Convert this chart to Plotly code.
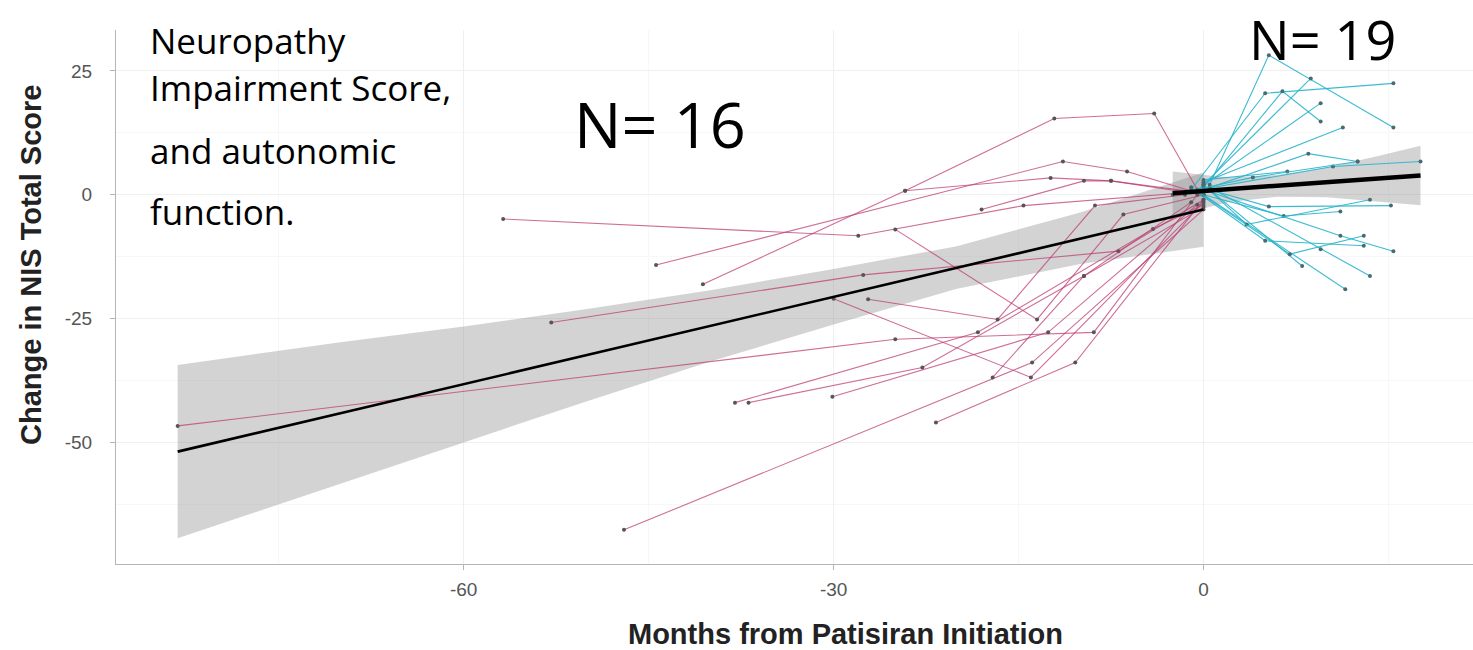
import plotly.graph_objects as go

# ---------------- data ----------------
pre_t = [
    [-83.2, -25.0, -8.9, -0.5],
    [-52.9, -27.6, -6.9, 0.0],
    [-56.8, -28.0, -14.6, -1.0],
    [-44.4, -11.4, -6.2, 0.0],
    [-40.6, -24.2, -12.1, -4.0, -0.5],
    [-38.0, -18.3, -4.1, 0.0],
    [-36.9, -22.8, -9.7, -1.0],
    [-47.0, -13.9, 0.0],
    [-30.1, -12.6, -0.5],
    [-24.2, -12.4, -7.5, 0.0],
    [-21.7, -10.4, 0.0],
    [-27.2, -16.7, -8.8, -1.5],
    [-17.1, -9.7, 0.0],
    [-30.0, -14.0, 0.0],
    [-25.0, -13.5, -6.5, 0.0],
    [-18.0, -9.7, -7.5, -0.5],
]
pre_y = [
    [-46.7, -29.2, -27.8, 0.0],
    [-25.8, -16.2, -11.4, -1.0],
    [-4.9, -8.3, -2.2, 0.5],
    [-14.2, 6.7, 4.7, 0.0],
    [-18.1, 0.8, 15.4, 16.4, 1.0],
    [-42.0, -27.8, -6.9, -2.0],
    [-42.0, -34.9, -16.4, -1.5],
    [-67.7, -33.9, -3.0],
    [-40.8, -27.8, -2.0],
    [0.8, 3.4, 2.8, 0.0],
    [-46.0, -33.9, -1.0],
    [-21.1, -25.2, -2.2, 0.0],
    [-36.9, -16.4, -2.5],
    [-21.0, -36.9, -1.5],
    [-7.0, -25.2, -4.0, 0.0],
    [-3.0, 2.8, 2.8, 0.5],
]

post_t = [
    [0.5, 5.3, 15.4],
    [-1.0, 5.0, 15.4],
    [0.0, 6.4, 9.5],
    [0.0, 8.7],
    [-0.5, 9.5],
    [0.0, 11.3],
    [0.0, 8.5, 12.5],
    [-1.5, 10.5, 17.6],
    [0.0, 6.8],
    [0.5, 5.3, 15.2],
    [0.0, 6.5, 11.1],
    [0.0, 11.1, 15.4],
    [-0.5, 5.0, 13.0],
    [0.0, 8.0],
    [0.5, 9.5, 13.5],
    [0.0, 11.5],
    [-2.5, 4.0, 12.5],
    [0.0, 3.5, 13.5],
    [-1.0, 7.0, 13.0],
]
post_y = [
    [2.0, 28.2, 13.6],
    [1.0, 20.5, 22.5],
    [1.5, 20.9, 14.8],
    [2.0, 23.5],
    [1.0, 18.5],
    [2.5, 13.6],
    [1.0, 8.3, 6.7],
    [0.5, 5.7, 6.7],
    [3.0, 4.7],
    [1.0, -2.4, -2.2],
    [0.0, -4.3, -3.4],
    [1.0, -8.3, -11.4],
    [0.5, -9.3, -10.3],
    [2.0, -14.4],
    [1.5, -11.0, -16.4],
    [0.0, -19.1],
    [0.0, 3.5, 6.7],
    [2.0, -6.0, -1.0],
    [1.5, -12.0, -8.3],
]

# linear fits and confidence bands
pre_fit_t = [-83.2, 0.0]
pre_fit_y = [-51.9, -3.0]
pre_band_t = [-83.2, -70, -60, -50, -40, -30, -20, -10, 0]
pre_band_lo = [-69.4, -58.4, -50.0, -41.7, -33.7, -26.2, -19.0, -14.0, -10.5]
pre_band_hi = [-34.4, -29.8, -26.6, -23.1, -19.3, -15.0, -10.4, -3.6, 4.5]

post_fit_t = [-2.5, 17.6]
post_fit_y = [0.3, 3.9]
post_band_t = [-2.5, 2, 6, 10, 14, 17.6]
post_band_lo = [-4.3, -1.5, -0.4, -0.5, -1.3, -2.1]
post_band_hi = [4.7, 3.5, 4.0, 5.5, 7.7, 9.9]

x_ticks = [-60, -30, 0]
x_tick_text = ["-60", "-30", "0"]
y_ticks = [25, 0, -25, -50]
y_tick_text = ["25", "0", "-25", "-50"]

# ---------------- layout geometry ----------------
W, H = 1473, 650
L, R, T, B = 116, 1473, 30, 564


def px(xp):
    return (xp - L) / (R - L)


def py(yp):
    return (B - yp) / (B - T)


fig = go.Figure()

band_fill = "rgba(140,140,140,0.38)"
fig.add_trace(go.Scatter(
    x=pre_band_t + pre_band_t[::-1], y=pre_band_hi + pre_band_lo[::-1],
    fill="toself", fillcolor=band_fill, line=dict(width=0), mode="lines",
    hoverinfo="skip", showlegend=False))
fig.add_trace(go.Scatter(
    x=post_band_t + post_band_t[::-1], y=post_band_hi + post_band_lo[::-1],
    fill="toself", fillcolor=band_fill, line=dict(width=0), mode="lines",
    hoverinfo="skip", showlegend=False))

pre_col = "rgba(190,60,115,0.75)"
post_col = "rgba(38,180,205,0.9)"
for tt, yy in zip(pre_t, pre_y):
    fig.add_trace(go.Scatter(
        x=tt, y=yy, mode="lines+markers",
        line=dict(color=pre_col, width=1.1),
        marker=dict(color="#555555", size=4),
        showlegend=False))
for tt, yy in zip(post_t, post_y):
    fig.add_trace(go.Scatter(
        x=tt, y=yy, mode="lines+markers",
        line=dict(color=post_col, width=1.1),
        marker=dict(color="#4a6a72", size=4),
        showlegend=False))

fig.add_trace(go.Scatter(x=pre_fit_t, y=pre_fit_y, mode="lines",
                         line=dict(color="black", width=2.6), showlegend=False))
fig.add_trace(go.Scatter(x=post_fit_t, y=post_fit_y, mode="lines",
                         line=dict(color="black", width=4.5), showlegend=False))

x0 = -88.2
x1 = x0 + (R - L) / 12.33
y0 = -74.6
y1 = y0 + (B - T) / 4.95

axis_common = dict(
    showline=True, linecolor="#b5b5b5", linewidth=1.2,
    ticks="outside", tickcolor="#b5b5b5", ticklen=5,
    showgrid=True, gridcolor="#efefef", gridwidth=1,
    minor=dict(showgrid=True, gridcolor="#f7f7f7", gridwidth=1),
    zeroline=False,
    tickfont=dict(family="Liberation Sans, Arial, sans-serif", size=19, color="#555555"),
    mirror=False,
)

fig.update_xaxes(range=[x0, x1], tickmode="array", tickvals=x_ticks, ticktext=x_tick_text,
                 minor_tickvals=[-75, -45, -15, 15], ticklabelstandoff=3, **axis_common)
fig.update_yaxes(range=[y0, y1], tickmode="array", tickvals=y_ticks, ticktext=y_tick_text,
                 minor_tickvals=[12.5, -12.5, -37.5, -62.5], ticklabelstandoff=14, **axis_common)

title_font = dict(family="Liberation Sans, Arial, sans-serif", size=29, color="#222222")
text_font = "Open Sans, Lato, sans-serif"
annotations = [
    dict(text="<b>Months from Patisiran Initiation</b>", x=px(845), y=py(634),
         xref="paper", yref="paper", xanchor="center", yanchor="middle",
         showarrow=False, font=title_font),
    dict(text="<b>Change in NIS Total Score</b>", x=px(31), y=py(265),
         xref="paper", yref="paper", xanchor="center", yanchor="middle",
         textangle=-90, showarrow=False, font=title_font),
    dict(text="Neuropathy", x=px(148), y=py(40), xref="paper", yref="paper",
         xanchor="left", yanchor="middle", showarrow=False,
         font=dict(family=text_font, size=35, color="black")),
    dict(text="Impairment Score,", x=px(148), y=py(87), xref="paper", yref="paper",
         xanchor="left", yanchor="middle", showarrow=False,
         font=dict(family=text_font, size=35, color="black")),
    dict(text="and autonomic", x=px(148), y=py(150), xref="paper", yref="paper",
         xanchor="left", yanchor="middle", showarrow=False,
         font=dict(family=text_font, size=35, color="black")),
    dict(text="function.", x=px(148), y=py(211), xref="paper", yref="paper",
         xanchor="left", yanchor="middle", showarrow=False,
         font=dict(family=text_font, size=35, color="black")),
    dict(text="N= 16", x=px(572), y=py(124), xref="paper", yref="paper",
         xanchor="left", yanchor="middle", showarrow=False,
         font=dict(family=text_font, size=63, color="black")),
    dict(text="N= 19", x=px(1247), y=py(0), xref="paper", yref="paper",
         xanchor="left", yanchor="top", showarrow=False,
         font=dict(family=text_font, size=54, color="black")),
]

fig.update_layout(
    width=W, height=H,
    margin=dict(l=L, r=W - R, t=T, b=H - B, pad=0),
    plot_bgcolor="white", paper_bgcolor="white",
    showlegend=False,
    annotations=annotations,
)

fig.write_html("out.html")
